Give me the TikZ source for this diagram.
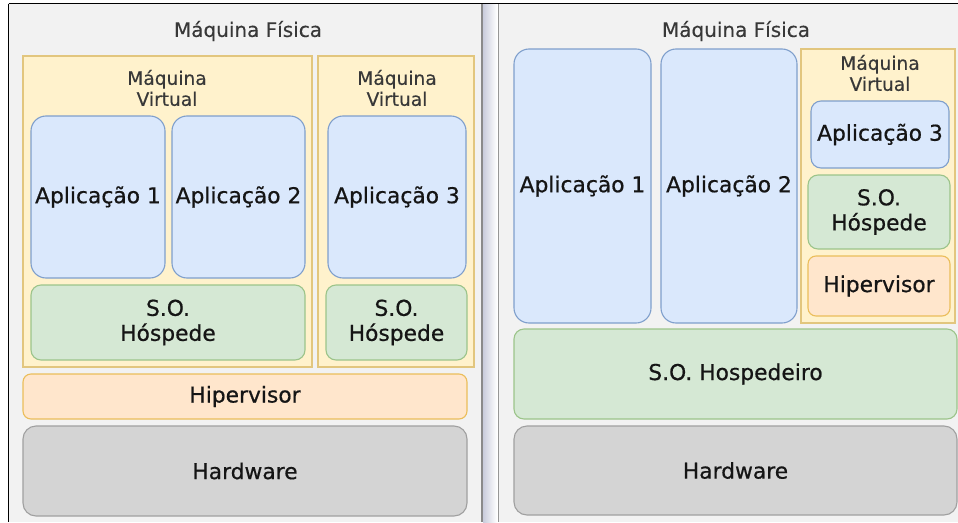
\documentclass[tikz,border=0pt]{standalone}
\usepackage{fontspec}
\setmainfont{DejaVu Sans}
\newfontfamily\boxfont{DejaVu Sans}[FakeBold=0.6]
\newfontfamily\lblfont{DejaVu Sans}[FakeBold=0.3]
\definecolor{panelbg}{HTML}{F2F2F2}
\definecolor{appfill}{HTML}{DAE8FC}
\definecolor{appline}{HTML}{7F9FCC}
\definecolor{osfill}{HTML}{D5E8D4}
\definecolor{osline}{HTML}{9CC48A}
\definecolor{vmfill}{HTML}{FFF2CC}
\definecolor{vmline}{HTML}{E2C67E}
\definecolor{hvfill}{HTML}{FFE6CC}
\definecolor{hvline}{HTML}{EBBE5A}
\definecolor{hwfill}{HTML}{D4D4D4}
\definecolor{hwline}{HTML}{A0A0A0}
\definecolor{txt}{HTML}{151515}
\definecolor{divdark}{HTML}{8A8A8A}
\definecolor{divshade}{HTML}{C9CCDC}
\newcommand\blk[7]{%
  \node[#6, minimum width={#4-#2}, minimum height={#5-#3}] (#1)
    at ({(#2+#4)/2},{(#3+#5)/2}) {#7};}
\begin{document}
\begin{tikzpicture}[x=1pt, y=-1pt,
  layer/.style={draw, line width=1.1pt, rounded corners=#1, inner sep=0pt,
    align=center, text=txt, font=\boxfont\fontsize{21.8}{25}\selectfont},
  app/.style={layer=15pt, fill=appfill, draw=appline},
  appsmall/.style={layer=10pt, fill=appfill, draw=appline},
  os/.style={layer=10pt, fill=osfill, draw=osline},
  hyp/.style={layer=8pt, fill=hvfill, draw=hvline},
  hw/.style={layer=13pt, fill=hwfill, draw=hwline},
  vm/.style={draw=vmline, fill=vmfill, line width=1.1pt, inner sep=0pt},
  vmlabel/.style={inner sep=0pt, align=center, text=txt!85,
    font=\lblfont\fontsize{18.6}{21}\selectfont},
  hostlabel/.style={inner sep=0pt, text=txt!85,
    font=\lblfont\fontsize{20}{23}\selectfont}]

\useasboundingbox (0,0) rectangle (958,522);
\fill[white] (0,0) rectangle (958,522);

% two panels with the frame and the divider between them
\fill[panelbg] (9,4) rectangle (481,522);
\fill[panelbg] (499,4) rectangle (958,522);
\shade[left color=divshade, right color=white] (483,4) rectangle (497,522);
\fill[divdark] (481,4) rectangle (483,522);
\fill[divdark!90] (497.6,4) rectangle (499,522);
\draw[black, line width=1.5pt] (8.5,3.5) -- (958,3.5);
\draw[black, line width=1.5pt] (8.5,3.5) -- (8.5,522);

% left: hypervisor running directly on the hardware
\node[hostlabel] (hostL) at (248,31) {Máquina Física};
\blk{vmA}{23}{56}{312}{367}{vm}{}
\blk{vmB}{318}{56}{474}{367}{vm}{}
\node[vmlabel] (vmAlbl) at (167,88) {Máquina\\Virtual};
\node[vmlabel] (vmBlbl) at (397,88) {Máquina\\Virtual};
\blk{appA1}{31}{116}{165}{278}{app}{Aplicação 1}
\blk{appA2}{172}{116}{305}{278}{app}{Aplicação 2}
\blk{appA3}{328}{116}{466}{278}{app}{Aplicação 3}
\blk{osA1}{31}{285}{305}{360}{os}{S.O.\\Hóspede}
\blk{osA2}{326}{285}{467}{360}{os}{S.O.\\Hóspede}
\blk{hypA}{23}{374}{467}{419}{hyp}{Hipervisor}
\blk{hwA}{23}{426}{467}{516}{hw}{Hardware}

% right: hypervisor running on a host operating system
\node[hostlabel] (hostR) at (736,31) {Máquina Física};
\blk{appB1}{514}{49}{651}{323}{app}{Aplicação 1}
\blk{appB2}{661}{49}{797}{323}{app}{Aplicação 2}
\blk{vmC}{801}{49}{955}{323}{vm}{}
\node[vmlabel] (vmClbl) at (880,73) {Máquina\\Virtual};
\blk{appB3}{811}{101}{949}{168}{appsmall}{Aplicação 3}
\blk{osB}{808}{175}{950}{249}{os}{S.O.\\Hóspede}
\blk{hypB}{808}{256}{950}{316}{hyp}{Hipervisor}
\blk{hostos}{514}{329}{957}{419}{os}{S.O. Hospedeiro}
\blk{hwB}{514}{426}{957}{515}{hw}{Hardware}
\end{tikzpicture}
\end{document}
